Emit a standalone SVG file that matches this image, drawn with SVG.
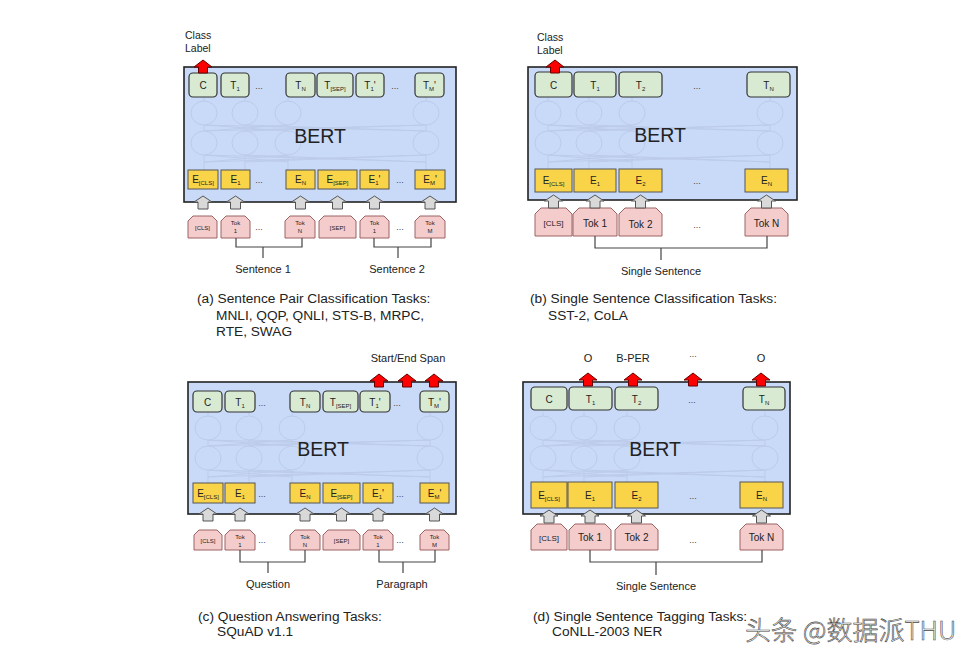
<svg xmlns="http://www.w3.org/2000/svg" xmlns:xlink="http://www.w3.org/1999/xlink" width="978" height="660" viewBox="0 0 978 660">
<style>
text{font-family:"Liberation Sans",Arial,sans-serif;fill:#222}
.bert{fill:#c9daf8;stroke:#222;stroke-width:1.6}
.t{fill:#d9ead3;stroke:#333;stroke-width:1.2}
.e{fill:#f9d448;stroke:#555;stroke-width:1}
.tok{fill:#f4cccc;stroke:#9c6262;stroke-width:1;stroke-linejoin:round}
.ga{fill:#d9d9d9;stroke:#555;stroke-width:1}
.ra{fill:#ff0000;stroke:#660000;stroke-width:1}
.br{fill:none;stroke:#444;stroke-width:1.2}
.net ellipse{fill:#c9daf8;stroke:#bccbea;stroke-width:1}
.net path{fill:none;stroke:#bccbea;stroke-width:1}
.bl{font-size:19.5px;text-anchor:middle}
.c{font-size:10px;text-anchor:middle}
.sub{font-size:6px}
.s{font-size:6px;text-anchor:middle}
.m8{font-size:8px;text-anchor:middle}
.d{font-size:9px;text-anchor:middle;fill:#444}
.lbl{font-size:11px;text-anchor:middle}
.cl{font-size:10.5px}
.cap{font-size:13.7px}
text.wm{font-family:"Noto Sans CJK SC","Noto Sans",sans-serif;font-size:26px;font-weight:300;fill:#ffffff;stroke:#444;stroke-width:0.6}
</style>
<defs>
<g id="net" class="net">
<path d="M20,30V103M61,30V103M104,30V103M242,30V103"/>
<path d="M20,58L242,64M242,58L20,64M61,58L242,64M104,58L20,64M20,58L104,64M242,58L61,64"/>
<path d="M20,88L242,95M242,88L20,95M61,88L242,95M104,88L20,95M20,88L104,95M242,88L61,95"/>
<ellipse cx="20" cy="46" rx="13" ry="12"/><ellipse cx="61" cy="46" rx="13" ry="12"/><ellipse cx="104" cy="46" rx="13" ry="12"/><ellipse cx="242" cy="46" rx="13" ry="12"/>
<ellipse cx="20" cy="76" rx="13" ry="12"/><ellipse cx="61" cy="76" rx="13" ry="12"/><ellipse cx="104" cy="76" rx="13" ry="12"/><ellipse cx="242" cy="76" rx="13" ry="12"/>
</g>
<path id="ga" d="M0,0L9,6H5V13H-5V6H-9Z"/>
<path id="ra" d="M0,0L9,7H4.5V13H-4.5V7H-9Z"/>
</defs>

<!-- Panel A -->
<g id="panel-a">
<rect class="bert" x="184" y="67" width="272" height="135"/>
<use href="#net" transform="translate(184,67)"/>
<text class="bl" x="320" y="143">BERT</text>
<g id="a-t">
<rect class="t" x="189" y="73" width="28" height="24" rx="4"/><text class="c" x="203" y="89">C</text>
<rect class="t" x="221" y="73" width="28" height="24" rx="4"/><text class="c" x="235" y="89">T<tspan class="sub" dy="2">1</tspan></text>
<text class="d" x="259" y="89">...</text>
<rect class="t" x="286" y="73" width="29" height="24" rx="4"/><text class="c" x="300.5" y="89">T<tspan class="sub" dy="2">N</tspan></text>
<rect class="t" x="317" y="73" width="36" height="24" rx="4"/><text class="c" x="335" y="89">T<tspan class="sub" dy="2">[SEP]</tspan></text>
<rect class="t" x="356" y="73" width="28" height="24" rx="4"/><text class="c" x="370" y="89">T<tspan class="sub" dy="2">1</tspan><tspan dy="-2">'</tspan></text>
<text class="d" x="395" y="89">...</text>
<rect class="t" x="415" y="73" width="29" height="24" rx="4"/><text class="c" x="429.5" y="89">T<tspan class="sub" dy="2">M</tspan><tspan dy="-2">'</tspan></text>
</g>
<g id="a-e">
<rect class="e" x="188" y="170" width="30" height="19"/><text class="c" x="203" y="183">E<tspan class="sub" dy="2">[CLS]</tspan></text>
<rect class="e" x="221" y="170" width="29" height="19"/><text class="c" x="235.5" y="183">E<tspan class="sub" dy="2">1</tspan></text>
<text class="d" x="259" y="183">...</text>
<rect class="e" x="286" y="170" width="29" height="19"/><text class="c" x="300.5" y="183">E<tspan class="sub" dy="2">N</tspan></text>
<rect class="e" x="318" y="170" width="39" height="19"/><text class="c" x="337.5" y="183">E<tspan class="sub" dy="2">[SEP]</tspan></text>
<rect class="e" x="360" y="170" width="29" height="19"/><text class="c" x="374.5" y="183">E<tspan class="sub" dy="2">1</tspan><tspan dy="-2">'</tspan></text>
<text class="d" x="400" y="183">...</text>
<rect class="e" x="415" y="170" width="30" height="19"/><text class="c" x="430" y="183">E<tspan class="sub" dy="2">M</tspan><tspan dy="-2">'</tspan></text>
</g>
<g id="a-tok">
<path class="tok" d="M193,216H212L217,221V238H188V221Z"/><text class="s" x="202.5" y="230">[CLS]</text>
<path class="tok" d="M226,216H245L250,221V238H221V221Z"/><text class="s" x="235.5" y="225">Tok</text><text class="s" x="235.5" y="233">1</text>
<text class="d" x="259" y="230">...</text>
<path class="tok" d="M290,216H310L315,221V238H285V221Z"/><text class="s" x="300" y="225">Tok</text><text class="s" x="300" y="233">N</text>
<path class="tok" d="M324,216H351L356,221V238H319V221Z"/><text class="s" x="337.5" y="230">[SEP]</text>
<path class="tok" d="M365,216H384L389,221V238H360V221Z"/><text class="s" x="374.5" y="225">Tok</text><text class="s" x="374.5" y="233">1</text>
<text class="d" x="400" y="230">...</text>
<path class="tok" d="M420,216H440L445,221V238H415V221Z"/><text class="s" x="430" y="225">Tok</text><text class="s" x="430" y="233">M</text>
</g>
<text class="cl" x="185" y="39">Class</text>
<text class="cl" x="185" y="52">Label</text>
<text class="lbl" x="263" y="273">Sentence 1</text>
<text class="lbl" x="397" y="273">Sentence 2</text>
<text class="cap" x="197" y="303">(a) Sentence Pair Classification Tasks:</text>
<text class="cap" x="216" y="320">MNLI, QQP, QNLI, STS-B, MRPC,</text>
<text class="cap" x="216" y="336">RTE, SWAG</text>
</g>

<!-- Panel B -->
<g id="panel-b">
<rect class="bert" x="528" y="67" width="269" height="133"/>
<use href="#net" transform="translate(528,67)"/>
<text class="bl" x="660" y="142">BERT</text>
<g id="b-t">
<rect class="t" x="535" y="72" width="37" height="25" rx="4"/><text class="c" x="553.5" y="89">C</text>
<rect class="t" x="574" y="72" width="42" height="25" rx="4"/><text class="c" x="595" y="89">T<tspan class="sub" dy="2">1</tspan></text>
<rect class="t" x="619" y="72" width="43" height="25" rx="4"/><text class="c" x="640.5" y="89">T<tspan class="sub" dy="2">2</tspan></text>
<text class="d" x="697" y="89">...</text>
<rect class="t" x="747" y="72" width="43" height="25" rx="4"/><text class="c" x="768.5" y="89">T<tspan class="sub" dy="2">N</tspan></text>
</g>
<g id="b-e">
<rect class="e" x="535" y="169" width="37" height="23"/><text class="c" x="553.5" y="184">E<tspan class="sub" dy="2">[CLS]</tspan></text>
<rect class="e" x="574" y="169" width="42" height="23"/><text class="c" x="595" y="184">E<tspan class="sub" dy="2">1</tspan></text>
<rect class="e" x="619" y="169" width="43" height="23"/><text class="c" x="640.5" y="184">E<tspan class="sub" dy="2">2</tspan></text>
<text class="d" x="697" y="184">...</text>
<rect class="e" x="745" y="169" width="43" height="23"/><text class="c" x="766.5" y="184">E<tspan class="sub" dy="2">N</tspan></text>
</g>
<g id="b-tok">
<path class="tok" d="M541,208H566L572,214V236H535V214Z"/><text class="m8" x="553.5" y="226">[CLS]</text>
<path class="tok" d="M579,208H611L617,214V236H573V214Z"/><text class="c" x="595" y="227">Tok 1</text>
<path class="tok" d="M625,208H656L662,214V236H619V214Z"/><text class="c" x="640.5" y="228">Tok 2</text>
<text class="d" x="697" y="228">...</text>
<path class="tok" d="M751,208H782L788,214V236H745V214Z"/><text class="c" x="766.5" y="227">Tok N</text>
</g>
<text class="cl" x="537" y="41">Class</text>
<text class="cl" x="537" y="54">Label</text>
<text class="lbl" x="661" y="275">Single Sentence</text>
<text class="cap" x="530" y="303">(b) Single Sentence Classification Tasks:</text>
<text class="cap" x="548" y="320">SST-2, CoLA</text>
</g>

<!-- Panel C -->
<g id="panel-c">
<rect class="bert" x="188" y="382" width="268" height="132"/>
<use href="#net" transform="translate(188,382)"/>
<text class="bl" x="323" y="456">BERT</text>
<g id="c-t">
<rect class="t" x="193" y="391" width="29" height="21" rx="4"/><text class="c" x="207.5" y="406">C</text>
<rect class="t" x="225" y="391" width="30" height="21" rx="4"/><text class="c" x="240" y="406">T<tspan class="sub" dy="2">1</tspan></text>
<text class="d" x="262" y="406">...</text>
<rect class="t" x="290" y="391" width="30" height="21" rx="4"/><text class="c" x="305" y="406">T<tspan class="sub" dy="2">N</tspan></text>
<rect class="t" x="323" y="391" width="35" height="21" rx="4"/><text class="c" x="340.5" y="406">T<tspan class="sub" dy="2">[SEP]</tspan></text>
<rect class="t" x="360" y="391" width="30" height="21" rx="4"/><text class="c" x="375" y="406">T<tspan class="sub" dy="2">1</tspan><tspan dy="-2">'</tspan></text>
<text class="d" x="397" y="406">...</text>
<rect class="t" x="420" y="391" width="29" height="21" rx="4"/><text class="c" x="434.5" y="406">T<tspan class="sub" dy="2">M</tspan><tspan dy="-2">'</tspan></text>
</g>
<g id="c-e">
<rect class="e" x="193" y="483" width="30" height="20"/><text class="c" x="208" y="497">E<tspan class="sub" dy="2">[CLS]</tspan></text>
<rect class="e" x="225" y="483" width="30" height="20"/><text class="c" x="240" y="497">E<tspan class="sub" dy="2">1</tspan></text>
<text class="d" x="262" y="497">...</text>
<rect class="e" x="290" y="483" width="30" height="20"/><text class="c" x="305" y="497">E<tspan class="sub" dy="2">N</tspan></text>
<rect class="e" x="323" y="483" width="37" height="20"/><text class="c" x="341.5" y="497">E<tspan class="sub" dy="2">[SEP]</tspan></text>
<rect class="e" x="363" y="483" width="30" height="20"/><text class="c" x="378" y="497">E<tspan class="sub" dy="2">1</tspan><tspan dy="-2">'</tspan></text>
<text class="d" x="400" y="497">...</text>
<rect class="e" x="420" y="483" width="29" height="20"/><text class="c" x="434.5" y="497">E<tspan class="sub" dy="2">M</tspan><tspan dy="-2">'</tspan></text>
</g>
<g id="c-tok">
<path class="tok" d="M199,530H217L222,535V550H194V535Z"/><text class="s" x="208" y="543">[CLS]</text>
<path class="tok" d="M230,530H250L255,535V550H225V535Z"/><text class="s" x="240" y="539">Tok</text><text class="s" x="240" y="547">1</text>
<text class="d" x="262" y="543">...</text>
<path class="tok" d="M295,530H315L320,535V550H290V535Z"/><text class="s" x="305" y="539">Tok</text><text class="s" x="305" y="547">N</text>
<path class="tok" d="M328,530H355L360,535V550H323V535Z"/><text class="s" x="341.5" y="543">[SEP]</text>
<path class="tok" d="M368,530H388L393,535V550H363V535Z"/><text class="s" x="378" y="539">Tok</text><text class="s" x="378" y="547">1</text>
<text class="d" x="400" y="543">...</text>
<path class="tok" d="M425,530H444L449,535V550H420V535Z"/><text class="s" x="434.5" y="539">Tok</text><text class="s" x="434.5" y="547">M</text>
</g>
<text class="lbl" x="408" y="362">Start/End Span</text>
<text class="lbl" x="268" y="588">Question</text>
<text class="lbl" x="402" y="588">Paragraph</text>
<text class="cap" x="198" y="621">(c) Question Answering Tasks:</text>
<text class="cap" x="217" y="636">SQuAD v1.1</text>
</g>

<!-- Panel D -->
<g id="panel-d">
<rect class="bert" x="523" y="382" width="267" height="132"/>
<use href="#net" transform="translate(523,382)"/>
<text class="bl" x="655" y="456">BERT</text>
<g id="d-t">
<rect class="t" x="531" y="387" width="36" height="23" rx="4"/><text class="c" x="549" y="403">C</text>
<rect class="t" x="569" y="387" width="43" height="23" rx="4"/><text class="c" x="590.5" y="403">T<tspan class="sub" dy="2">1</tspan></text>
<rect class="t" x="615" y="387" width="43" height="23" rx="4"/><text class="c" x="636.5" y="403">T<tspan class="sub" dy="2">2</tspan></text>
<text class="d" x="692" y="403">...</text>
<rect class="t" x="743" y="387" width="42" height="23" rx="4"/><text class="c" x="764" y="403">T<tspan class="sub" dy="2">N</tspan></text>
</g>
<g id="d-e">
<rect class="e" x="531" y="482" width="36" height="26"/><text class="c" x="549" y="499">E<tspan class="sub" dy="2">[CLS]</tspan></text>
<rect class="e" x="568" y="482" width="44" height="26"/><text class="c" x="590" y="499">E<tspan class="sub" dy="2">1</tspan></text>
<rect class="e" x="615" y="482" width="43" height="26"/><text class="c" x="636.5" y="499">E<tspan class="sub" dy="2">2</tspan></text>
<text class="d" x="693" y="499">...</text>
<rect class="e" x="740" y="482" width="43" height="26"/><text class="c" x="761.5" y="499">E<tspan class="sub" dy="2">N</tspan></text>
</g>
<g id="d-tok">
<path class="tok" d="M537,524H561L567,530V550H531V530Z"/><text class="m8" x="549" y="541">[CLS]</text>
<path class="tok" d="M575,524H605L611,530V550H569V530Z"/><text class="c" x="590" y="541">Tok 1</text>
<path class="tok" d="M621,524H652L658,530V550H615V530Z"/><text class="c" x="636.5" y="541">Tok 2</text>
<text class="d" x="693" y="543">...</text>
<path class="tok" d="M746,524H777L783,530V550H740V530Z"/><text class="c" x="761.5" y="541">Tok N</text>
</g>
<text class="lbl" x="588" y="362">O</text>
<text class="lbl" x="633" y="362">B-PER</text>
<text class="d" x="693" y="357">...</text>
<text class="lbl" x="761" y="362">O</text>
<text class="lbl" x="656" y="590">Single Sentence</text>
<text class="cap" x="533" y="621">(d) Single Sentence Tagging Tasks:</text>
<text class="cap" x="552" y="636">CoNLL-2003 NER</text>
</g>

<!-- Connectors -->
<g id="connectors">
<g id="gray-arrows" class="ga">
<use href="#ga" x="203" y="196"/><use href="#ga" x="235.5" y="196"/><use href="#ga" x="300.5" y="196"/><use href="#ga" x="337.5" y="196"/><use href="#ga" x="374.5" y="196"/><use href="#ga" x="430" y="196"/>
<use href="#ga" x="553.5" y="195"/><use href="#ga" x="595" y="195"/><use href="#ga" x="640.5" y="195"/><use href="#ga" x="766.5" y="195"/>
<use href="#ga" x="208" y="508"/><use href="#ga" x="240" y="508"/><use href="#ga" x="305" y="508"/><use href="#ga" x="341.5" y="508"/><use href="#ga" x="378" y="508"/><use href="#ga" x="434.5" y="508"/>
<use href="#ga" x="549" y="510"/><use href="#ga" x="590" y="510"/><use href="#ga" x="636.5" y="510"/><use href="#ga" x="761.5" y="510"/>
</g>
<g id="red-arrows" class="ra">
<use href="#ra" x="203" y="60"/>
<use href="#ra" x="555" y="60"/>
<use href="#ra" x="379" y="374"/><use href="#ra" x="407" y="374"/><use href="#ra" x="434" y="374"/>
<use href="#ra" x="588" y="373"/><use href="#ra" x="633" y="373"/><use href="#ra" x="693" y="373"/><use href="#ra" x="761" y="373"/>
</g>
<g id="brackets" class="br">
<path d="M236,238V247H302V238M263,247V258"/>
<path d="M374,238V247H431V238M398,247V258"/>
<path d="M595,236V248H767V236M661,248V260"/>
<path d="M240,550V562H305V550M268,562V573"/>
<path d="M379,550V562H435V550M403,562V573"/>
<path d="M590,550V562H762V550M656,562V575"/>
</g>
</g>

<text class="wm" x="745" y="640">头条 @数据派THU</text>
</svg>
